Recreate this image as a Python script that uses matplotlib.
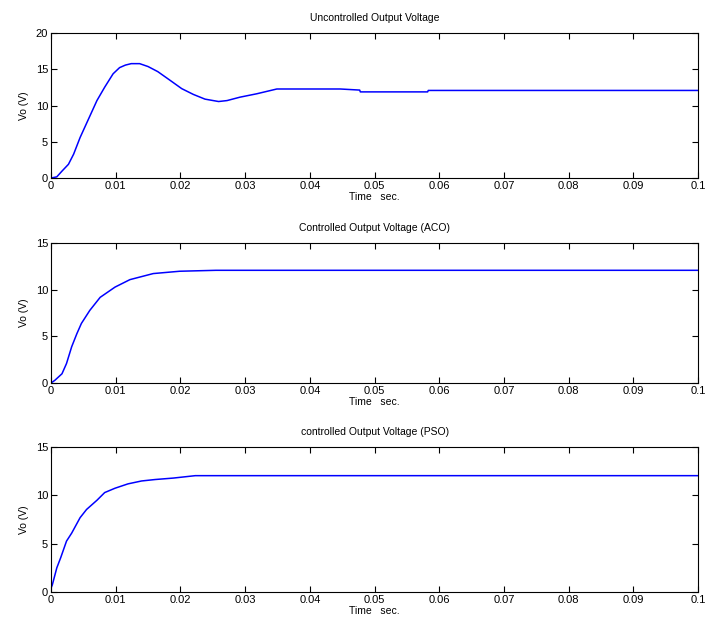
import numpy as np
import matplotlib
matplotlib.use("Agg")
import matplotlib.pyplot as plt

# values
t_unc = [0, 0.0009, 0.0017, 0.0027, 0.0035, 0.0045, 0.0058, 0.0071, 0.0083, 0.0096,
         0.0106, 0.0115, 0.0124, 0.0137, 0.015, 0.0165, 0.0184, 0.0202, 0.022, 0.0238,
         0.0259, 0.0272, 0.0292, 0.0318, 0.0349,
         0.0447, 0.0477, 0.0478, 0.0582, 0.0583, 0.1]
v_unc = [0, 0.17, 0.96, 1.9, 3.3, 5.6, 8.15, 10.7, 12.55, 14.4,
         15.25, 15.6, 15.8, 15.8, 15.4, 14.7, 13.5, 12.35, 11.55, 10.9,
         10.57, 10.7, 11.17, 11.64, 12.3,
         12.3, 12.15, 11.9, 11.9, 12.1, 12.1]

t_aco = [0, 0.0006, 0.0017, 0.0024, 0.0032, 0.004, 0.0047, 0.006, 0.0076, 0.0099,
         0.0122, 0.0158, 0.0199, 0.0255, 0.1]
v_aco = [0, 0.3, 1.0, 2.1, 3.9, 5.3, 6.4, 7.8, 9.2, 10.3,
         11.1, 11.75, 12.0, 12.1, 12.1]

t_pso = [0, 0.0002, 0.0009, 0.0015, 0.0024, 0.0032, 0.0045, 0.0055, 0.0071, 0.0083,
         0.0099, 0.0119, 0.014, 0.0161, 0.0189, 0.0223, 0.1]
v_pso = [0.4, 0.72, 2.5, 3.55, 5.27, 6.1, 7.7, 8.55, 9.5, 10.3,
         10.75, 11.2, 11.5, 11.65, 11.8, 12.05, 12.05]

titles = ["Uncontrolled Output Voltage", "Controlled Output Voltage (ACO)",
          "controlled Output Voltage (PSO)"]
ylims = [20, 15, 15]
xticks = [0, 0.01, 0.02, 0.03, 0.04, 0.05, 0.06, 0.07, 0.08, 0.09, 0.1]
xticklabels = ["0", "0.01", "0.02", "0.03", "0.04", "0.05", "0.06", "0.07", "0.08", "0.09", "0.1"]

plt.rcParams['font.family'] = ['Liberation Sans', 'DejaVu Sans']
fig = plt.figure(figsize=(7.05, 6.27), dpi=100)

boxes = [[0.0723, 0.716, 0.918, 0.231],
         [0.0723, 0.389, 0.918, 0.223],
         [0.0723, 0.0558, 0.918, 0.231]]
data = [(t_unc, v_unc), (t_aco, v_aco), (t_pso, v_pso)]

for i in range(3):
    ax = fig.add_axes(boxes[i])
    ax.plot(data[i][0], data[i][1], color='blue', lw=1.1)
    ax.set_xlim(0, 0.1)
    ax.set_ylim(0, ylims[i])
    ax.set_xticks(xticks)
    ax.set_xticklabels(xticklabels)
    ax.set_yticks(np.arange(0, ylims[i] + 1, 5))
    ax.tick_params(direction='in', top=True, right=True, labelsize=8, length=4, pad=2)
    ax.set_title(titles[i], fontsize=7.5, pad=9)
    ax.set_xlabel("Time   sec.", fontsize=7.5, labelpad=1)
    ax.set_ylabel("Vo (V)", fontsize=7.5, labelpad=5)
    for s in ax.spines.values():
        s.set_linewidth(0.8)

fig.savefig("out.png", dpi=100)
